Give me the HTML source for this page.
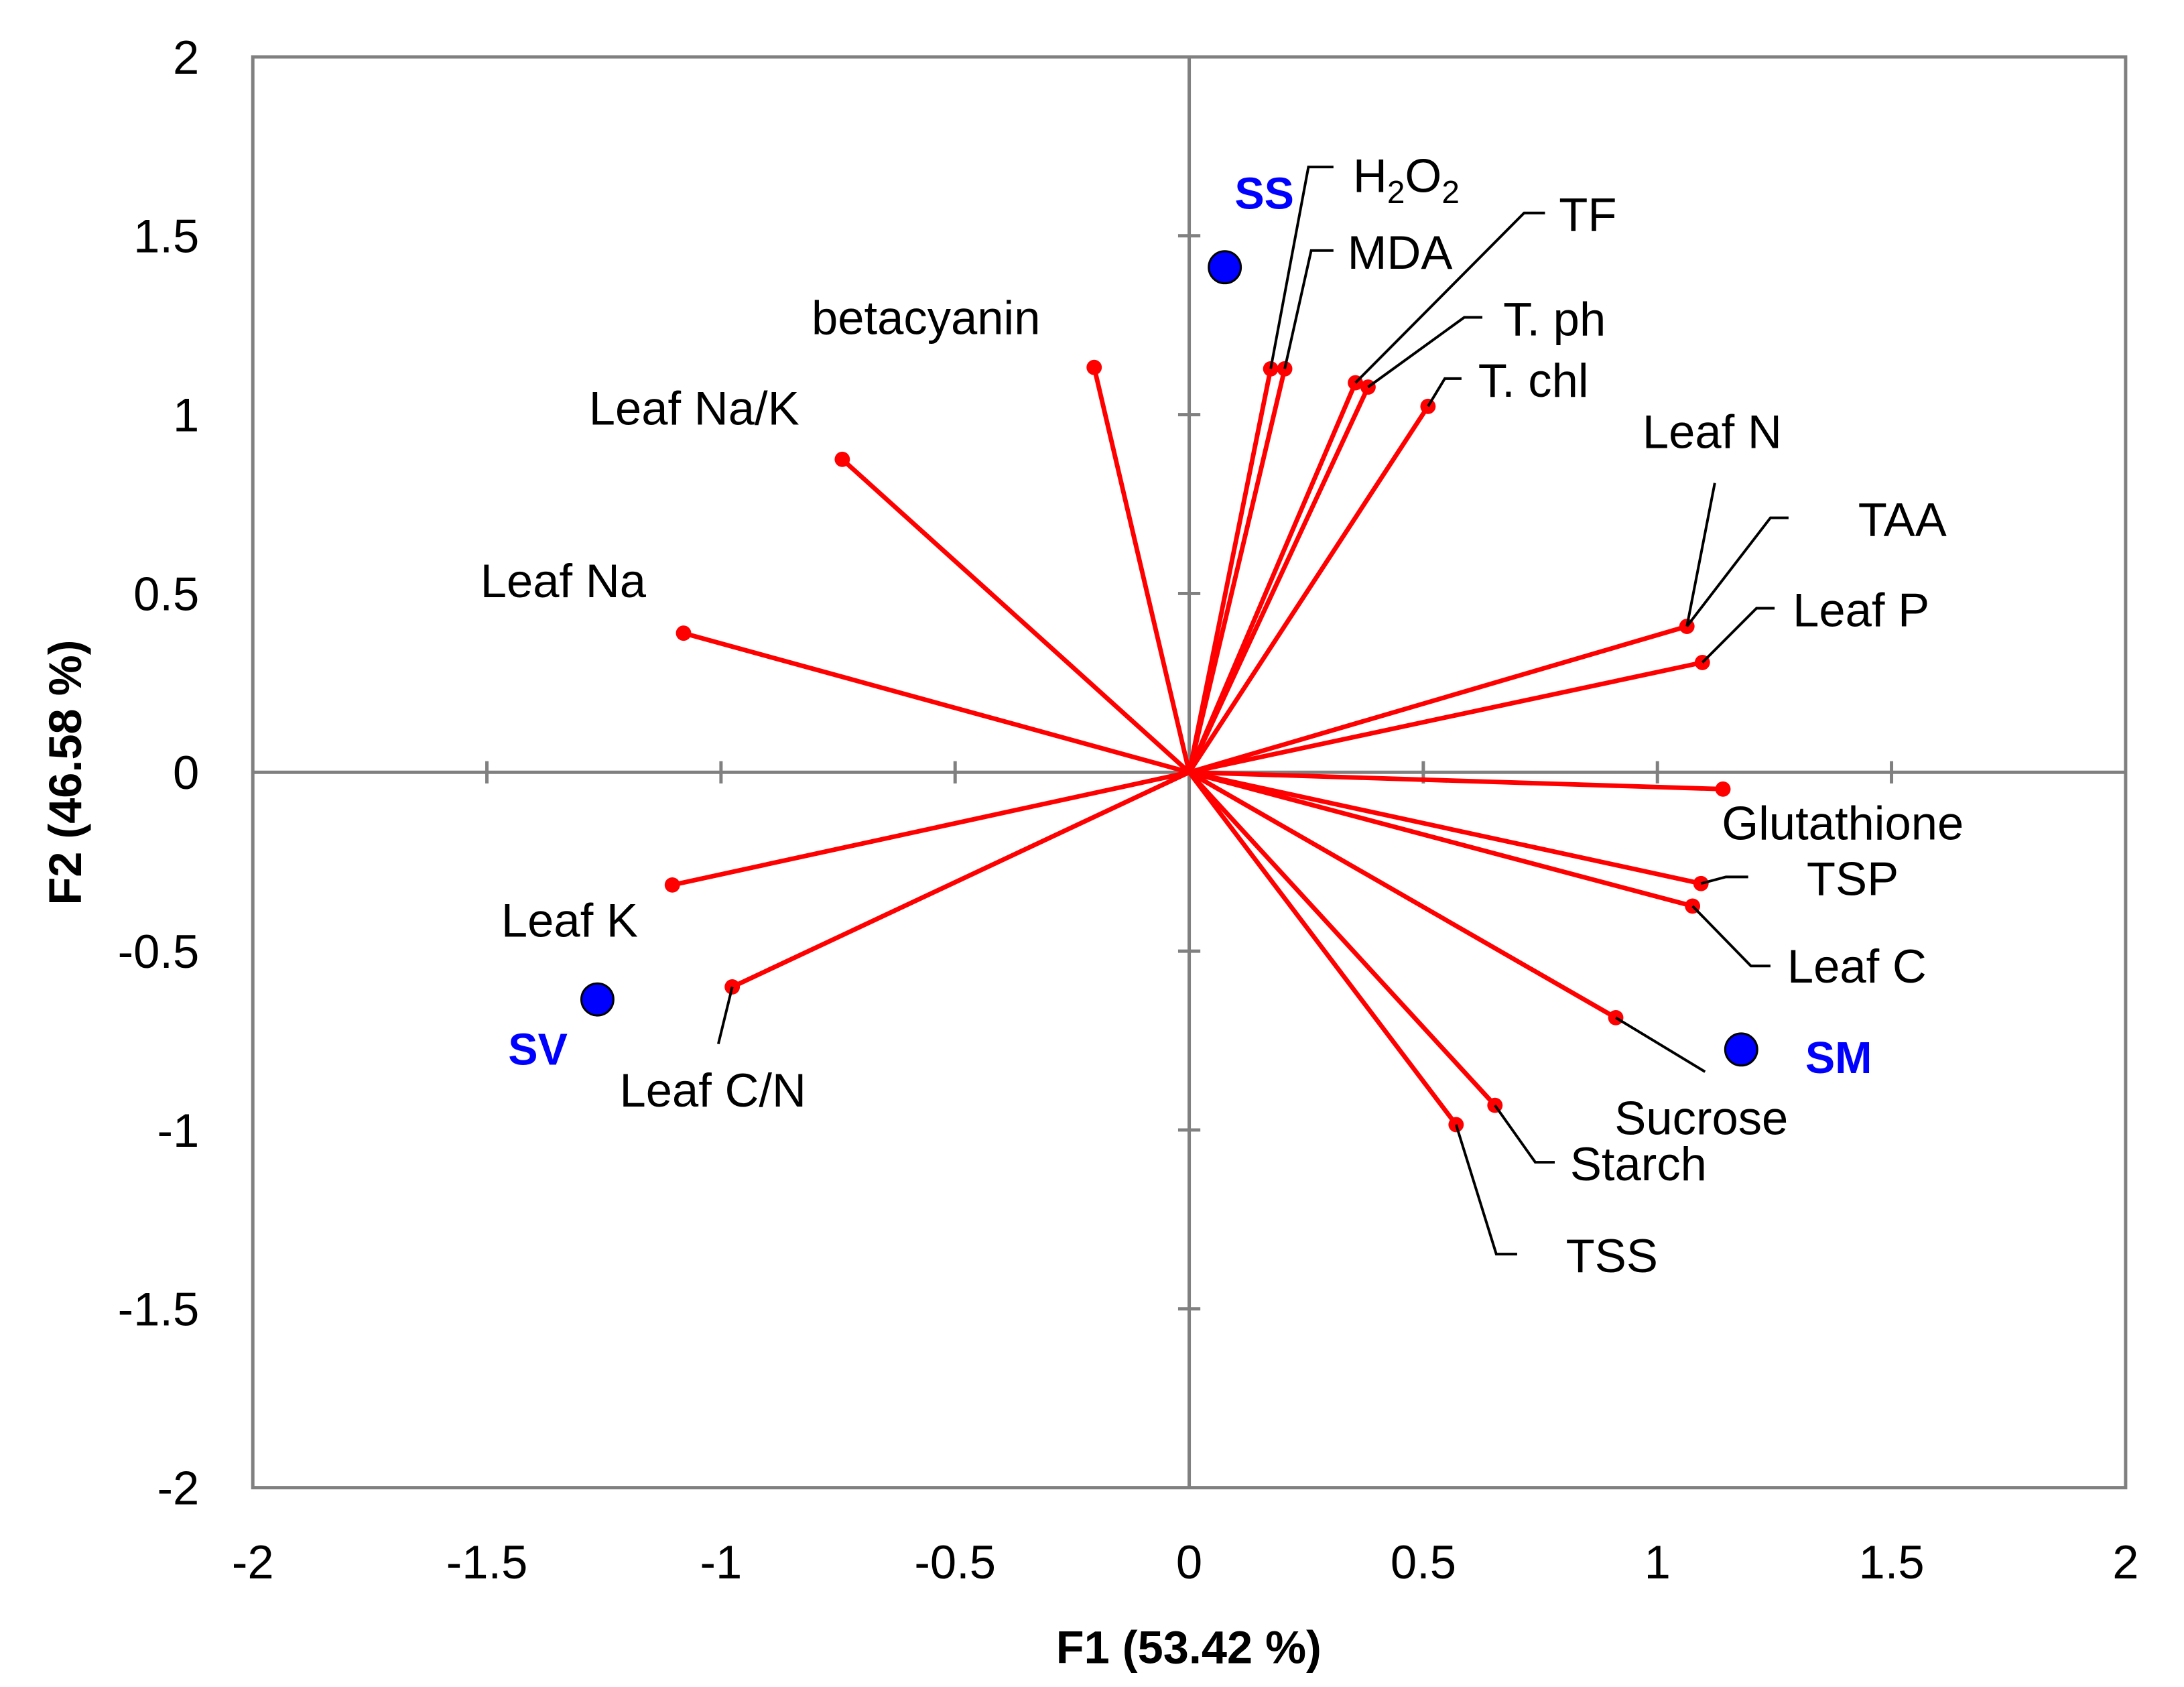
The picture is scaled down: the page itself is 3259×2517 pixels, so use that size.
<!DOCTYPE html>
<html><head><meta charset="utf-8"><style>
html,body{margin:0;padding:0;background:#fff}
svg{display:block}
text{font-family:"Liberation Sans",sans-serif}
</style></head><body>
<svg id="chart" width="3259" height="2517" viewBox="0 0 1569 1212" xmlns="http://www.w3.org/2000/svg">
<rect x="181.5" y="40.9" width="1345.7" height="1027.9" fill="#fff" stroke="#808080" stroke-width="2.4"/>
<g id="axes"></g>
<g id="vectors"></g>
<g id="leaders"></g>
<g id="labels"></g>
<g id="obs"></g>
<text x="854" y="1195" font-size="33" font-weight="bold" text-anchor="middle">F1 (53.42 %)</text>
<text transform="translate(58,555) rotate(-90)" font-size="33" font-weight="bold" text-anchor="middle">F2 (46.58 %)</text>
</svg>
<script>
const varNames=["betacyanin","Leaf Na/K","Leaf Na","Leaf K","Leaf C/N","H2O2","MDA","TF","T. ph","T. chl","Leaf N","Leaf P","Glutathione","TSP","Leaf C","Sucrose","Starch","TSS"];
const varF1=[-0.203,-0.741,-1.080,-1.104,-0.976,0.174,0.204,0.355,0.382,0.510,1.063,1.096,1.140,1.093,1.075,0.911,0.653,0.570];
const varF2=[1.132,0.875,0.389,-0.315,-0.600,1.128,1.128,1.089,1.077,1.023,0.408,0.307,-0.047,-0.311,-0.374,-0.686,-0.931,-0.985];
const obsNames=["SS","SV","SM"];
const obsF1=[0.076,-1.264,1.179];
const obsF2=[1.412,-0.635,-0.775];
const xTicks=[-2,-1.5,-1,-0.5,0,0.5,1,1.5,2];
const yTicks=[-2,-1.5,-1,-0.5,0,0.5,1,1.5,2];

const L=181.5,R=1527.2,T=40.9,B=1068.8;
const sx=v=>L+(v+2)/4*(R-L);
const sy=v=>B-(v+2)/4*(B-T);
const NS="http://www.w3.org/2000/svg";
function mk(tag,attrs,parent){const e=document.createElementNS(NS,tag);for(const k in attrs)e.setAttribute(k,attrs[k]);parent.appendChild(e);return e;}
const axes=document.getElementById('axes');
let e=mk('line',{x1:L,x2:R,y1:sy(0),y2:sy(0),stroke:'#808080','stroke-width':2.4},axes);


e=mk('line',{x1:sx(0),x2:sx(0),y1:T,y2:B,stroke:'#808080','stroke-width':2.4},axes);


xTicks.forEach(t=>{
  if(t>-2&&t<2){const m=mk('line',{x1:sx(t),x2:sx(t),y1:sy(0)-8,y2:sy(0)+8,stroke:'#808080','stroke-width':2.4},axes);
  
  }
  const tx=mk('text',{x:sx(t),y:1134,'font-size':34,'text-anchor':'middle'},axes);tx.textContent=String(t);
  
  
});
yTicks.forEach(t=>{
  if(t>-2&&t<2){const m=mk('line',{x1:sx(0)-8,x2:sx(0)+8,y1:sy(t),y2:sy(t),stroke:'#808080','stroke-width':2.4},axes);
  
  }
  const tx=mk('text',{x:143,y:sy(t)+12,'font-size':34,'text-anchor':'end'},axes);tx.textContent=String(t);
  
  
});
const vec=document.getElementById('vectors');
varNames.forEach((n,i)=>{
  const ln=mk('line',{x1:sx(0),y1:sy(0),x2:sx(varF1[i]),y2:sy(varF2[i]),stroke:'#ff0000','stroke-width':3.3},vec);
  
  
  const c=mk('circle',{cx:sx(varF1[i]),cy:sy(varF2[i]),r:5.5,fill:'#ff0000'},vec);
  
  
});
const layout={
 "betacyanin":[583,240,null],"Leaf Na/K":[423,305,null],"Leaf Na":[345,429,null],"Leaf K":[360,673,null],
 "Leaf C/N":[445,795,[[516,750]]],
 "H2O2":[972,138,[[940,120],[958,120]]],"MDA":[968,193,[[942,180],[958,180]]],
 "TF":[1120,166,[[1095,153],[1110,153]]],"T. ph":[1080,241,[[1052,228],[1065,228]]],
 "T. chl":[1062,285,[[1038,272],[1050,272]]],"Leaf N":[1180,322,[[1232,347]]],
 "Leaf P":[1288,450,[[1262,437],[1275,437]]],"Glutathione":[1237,603,null],
 "TSP":[1298,643,[[1240,630],[1256,630]]],"Leaf C":[1284,706,[[1258,694],[1272,694]]],
 "Sucrose":[1160,815,[[1225,770]]],"Starch":[1128,848,[[1103,835],[1117,835]]],
 "TSS":[1125,914,[[1075,901],[1090,901]]]
};
const lead=document.getElementById('leaders'),lab=document.getElementById('labels');
varNames.forEach((n,i)=>{
  const lay=layout[n];
  if(lay[2]){const pts=[[sx(varF1[i]),sy(varF2[i])]].concat(lay[2]);
    const pl=mk('polyline',{points:pts.map(p=>p.join(',')).join(' '),fill:'none',stroke:'#000','stroke-width':1.9},lead);
    
    }
  const t=mk('text',{x:lay[0],y:lay[1],'font-size':34},lab);
  if(n==="H2O2"){t.innerHTML='H<tspan font-size="23" dy="8">2</tspan><tspan dy="-8">O</tspan><tspan font-size="23" dy="8">2</tspan>';}
  else t.textContent=n;
  
  
});
(function(){const i=varNames.indexOf("Leaf N");
  const pl=mk('polyline',{points:[[sx(varF1[i]),sy(varF2[i])],[1272,372],[1285,372]].map(p=>p.join(',')).join(' '),fill:'none',stroke:'#000','stroke-width':1.9},lead);
  
  
  const t=mk('text',{x:1335,y:385,'font-size':34},lab);t.textContent='TAA';
  
  
})();
const obs=document.getElementById('obs');
const obsLab={"SS":[887,150],"SV":[365,765],"SM":[1297,771]};
obsNames.forEach((n,i)=>{
  const c=mk('circle',{cx:sx(obsF1[i]),cy:sy(obsF2[i]),r:11.5,fill:'#0000ff',stroke:'#000','stroke-width':1.5},obs);
  
  
  const t=mk('text',{x:obsLab[n][0],y:obsLab[n][1],'font-size':32,'font-weight':'bold',fill:'#0000ff'},obs);t.textContent=n;
  
  
});
</script>
</body></html>
